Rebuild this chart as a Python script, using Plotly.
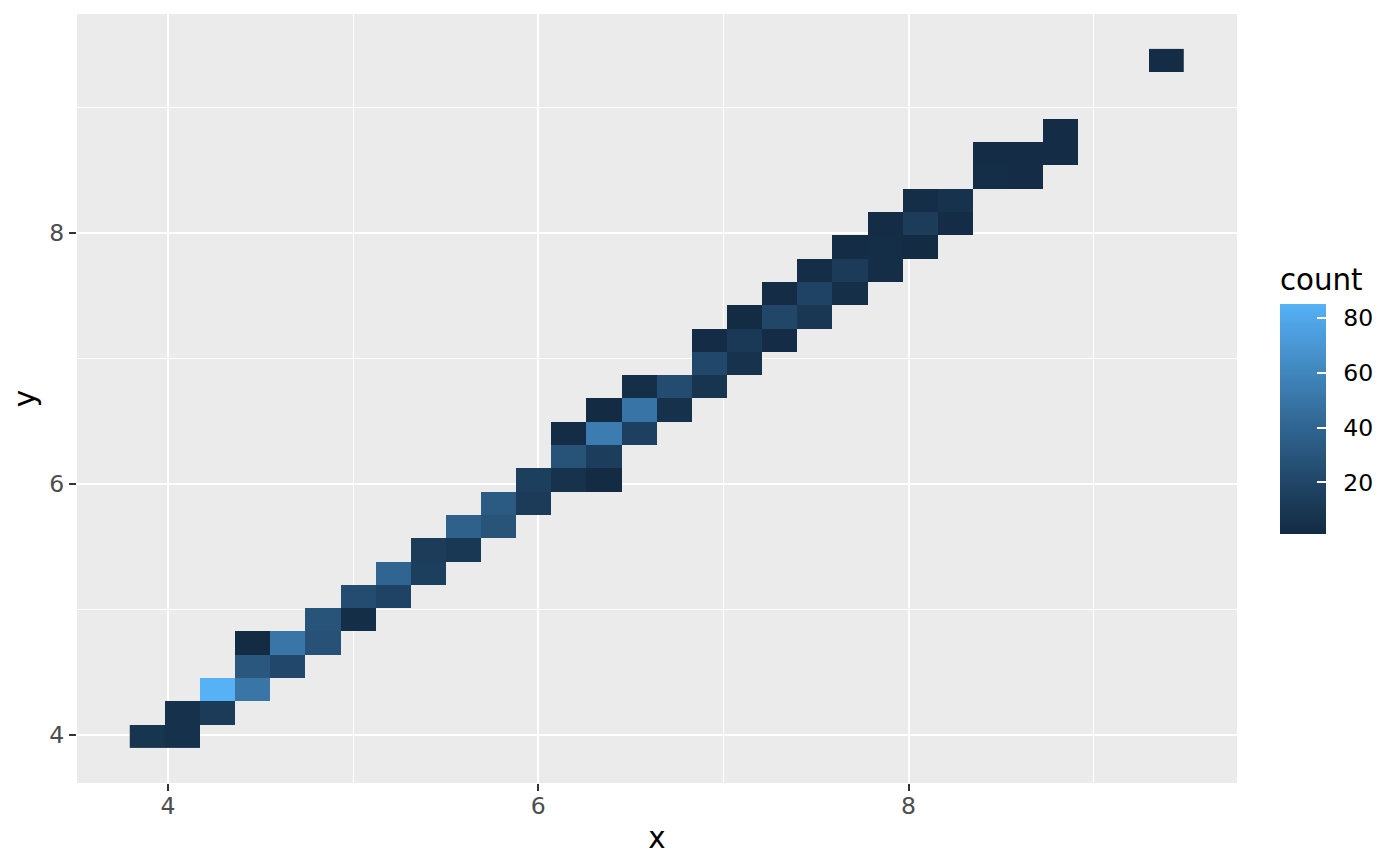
import plotly.graph_objects as go

# ---- binning of the 2D histogram (stat_bin2d, 30 x 30 bins) ----
x_bin_start = 3.793
x_bin_width = 0.18985
y_bin_start = 3.896
y_bin_width = 0.18557
n_bins = 30

# ---- non-empty cells: bin column, bin row, count ----
cell_col = [0, 1, 1, 2, 2, 3, 3, 3, 4, 4, 5, 5, 6, 6, 7, 7, 8, 8, 9, 9,
            10, 10, 11, 11, 12, 12, 12, 13, 13, 13, 13, 14, 14, 14, 15, 15,
            16, 16, 16, 17, 17, 17, 18, 18, 18, 19, 19, 19, 20, 20, 20,
            21, 21, 21, 22, 22, 22, 23, 23, 24, 24, 25, 25, 26, 26, 29]
cell_row = [0, 0, 1, 1, 2, 2, 3, 4, 3, 4, 4, 5, 5, 6, 6, 7, 7, 8, 8, 9,
            9, 10, 10, 11, 11, 12, 13, 11, 12, 13, 14, 13, 14, 15, 14, 15,
            15, 16, 17, 16, 17, 18, 17, 18, 19, 18, 19, 20, 19, 20, 21,
            20, 21, 22, 21, 22, 23, 22, 23, 24, 25, 24, 25, 25, 26, 29]
cell_count = [8, 5, 5, 12, 85, 50, 31, 1, 21, 50, 27, 29, 3, 24, 18, 40, 15, 13, 10, 38,
              29, 33, 12, 15, 6, 28, 2, 1, 14, 54, 1, 16, 49, 4, 5, 24,
              8, 21, 2, 6, 11, 1, 2, 20, 2, 9, 18, 3, 4, 12, 2,
              3, 3, 2, 1, 13, 3, 2, 6, 3, 2, 2, 2, 2, 2, 2]

colorbar_ticks = [20, 40, 60, 80]
x_ticks = [4, 6, 8]
y_ticks = [4, 6, 8]
x_minor = [5, 7, 9]
y_minor = [5, 7, 9]

# ---- grid ----
x_centers = [x_bin_start + x_bin_width * (i + 0.5) for i in range(n_bins)]
y_centers = [y_bin_start + y_bin_width * (j + 0.5) for j in range(n_bins)]
z = [[None] * n_bins for _ in range(n_bins)]
for c, r, v in zip(cell_col, cell_row, cell_count):
    z[r][c] = v

# ---- ggplot2-like gradient (Lab interpolation #132B43 -> #56B1F7) ----
def srgb_to_lab(h):
    r, g, b = [int(h[i:i + 2], 16) / 255 for i in (1, 3, 5)]
    def lin(c):
        return c / 12.92 if c <= 0.04045 else ((c + 0.055) / 1.055) ** 2.4
    r, g, b = lin(r), lin(g), lin(b)
    X = (0.4124 * r + 0.3576 * g + 0.1805 * b) / 0.95047
    Y = (0.2126 * r + 0.7152 * g + 0.0722 * b) / 1.0
    Z = (0.0193 * r + 0.1192 * g + 0.9505 * b) / 1.08883
    def f(t):
        return t ** (1 / 3) if t > 0.008856 else 7.787 * t + 16 / 116
    fx, fy, fz = f(X), f(Y), f(Z)
    return 116 * fy - 16, 500 * (fx - fy), 200 * (fy - fz)

def lab_to_hex(L, a, b):
    fy = (L + 16) / 116
    fx = fy + a / 500
    fz = fy - b / 200
    def finv(t):
        return t ** 3 if t ** 3 > 0.008856 else (t - 16 / 116) / 7.787
    X, Y, Z = finv(fx) * 0.95047, finv(fy), finv(fz) * 1.08883
    r = 3.2406 * X - 1.5372 * Y - 0.4986 * Z
    g = -0.9689 * X + 1.8758 * Y + 0.0415 * Z
    bb = 0.0557 * X - 0.2040 * Y + 1.0570 * Z
    def gam(c):
        c = max(0.0, min(1.0, c))
        return 12.92 * c if c <= 0.0031308 else 1.055 * c ** (1 / 2.4) - 0.055
    return "#%02x%02x%02x" % tuple(int(round(gam(c) * 255)) for c in (r, g, bb))

lo = srgb_to_lab("#132B43")
hi = srgb_to_lab("#56B1F7")
colorscale = []
for k in range(21):
    t = k / 20
    colorscale.append([t, lab_to_hex(*[lo[i] + (hi[i] - lo[i]) * t for i in range(3)])])

zmin, zmax = min(cell_count), max(cell_count)
bar_bottom = 0.3234   # paper fraction of the colour bar's lower end

fig = go.Figure()
# the binned counts, with the labelled colour bar
fig.add_trace(go.Heatmap(
    x=x_centers, y=y_centers, z=z,
    colorscale=colorscale, zmin=zmin, zmax=zmax,
    hoverongaps=False,
    colorbar=dict(
        title=dict(text="count", side="top", font=dict(size=29.3, color="black")),
        thickness=46, thicknessmode="pixels",
        len=269, lenmode="pixels",
        x=1.037, xanchor="left", y=bar_bottom, yanchor="bottom",
        xpad=0, ypad=0, outlinewidth=0,
        tickmode="array", tickvals=colorbar_ticks,
        ticks="outside", ticklen=13, tickcolor="rgba(0,0,0,0)",
        tickfont=dict(size=23.5, color="black"),
    ),
))
# a transparent companion layer whose colour bar only adds the white inner ticks
fig.add_trace(go.Heatmap(
    x=x_centers, y=y_centers, z=z, opacity=0,
    colorscale=colorscale, zmin=zmin, zmax=zmax,
    hoverinfo="skip", hoverongaps=False,
    colorbar=dict(
        thickness=46, thicknessmode="pixels",
        len=230, lenmode="pixels",
        x=1.037, xanchor="left", y=bar_bottom, yanchor="bottom",
        xpad=0, ypad=0, outlinewidth=0,
        tickmode="array", tickvals=colorbar_ticks,
        ticks="inside", ticklen=9, tickcolor="white", tickwidth=1.5,
        showticklabels=False,
    ),
))

axis_common = dict(
    tickmode="array", automargin=False,
    ticks="outside", ticklen=7, tickwidth=2.2, tickcolor="#333333",
    tickfont=dict(size=23.5, color="#4D4D4D"),
    showgrid=True, gridcolor="white", gridwidth=2.2,
    zeroline=False, showline=False,
)

# the page body adds an 8 px offset; margins compensate for it
fig.update_layout(
    width=1400, height=866,
    margin=dict(l=68.5, r=171, t=6, b=91),
    paper_bgcolor="white", plot_bgcolor="#EBEBEB",
    font=dict(family="DejaVu Sans"),
    xaxis=dict(range=[3.508, 9.774], tickvals=x_ticks, ticklabelstandoff=-5,
               minor=dict(tickmode="array", tickvals=x_minor, showgrid=True,
                          gridcolor="white", gridwidth=1.1, ticks=""),
               title=dict(text="x", font=dict(size=29.3, color="black"), standoff=8),
               **axis_common),
    yaxis=dict(range=[3.618, 9.741], tickvals=y_ticks,
               minor=dict(tickmode="array", tickvals=y_minor, showgrid=True,
                          gridcolor="white", gridwidth=1.1, ticks=""),
               title=dict(text="y", font=dict(size=29.3, color="black"), standoff=8),
               **axis_common),
)

fig.write_html("out.html")
